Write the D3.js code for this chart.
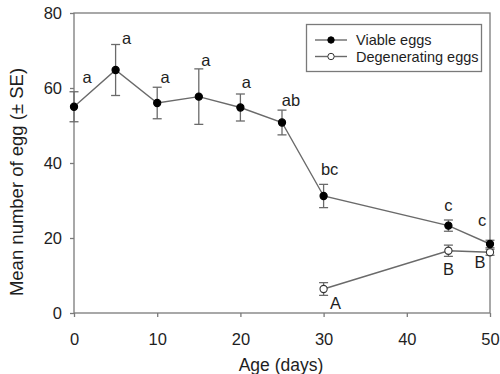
<!DOCTYPE html>
<html>
<head>
<meta charset="utf-8">
<script src="https://cdn.jsdelivr.net/npm/d3@7"></script>
<style>
  html, body { margin: 0; padding: 0; background: #fff; }
  svg { display: block; font-family: "Liberation Sans", Arial, sans-serif; }
</style>
</head>
<body>
<svg id="chart" width="500" height="374"></svg>
<script>
// Egg counts by female age
const viableAge = [0, 5, 10, 15, 20, 25, 30, 45, 50];
const viableMean = [55, 64.8, 56, 57.7, 54.8, 50.8, 31.2, 23.3, 18.4];
const viableSE = [4.0, 6.8, 4.2, 7.4, 3.6, 3.3, 3.1, 1.5, 1.0];
const viableLetters = ["a", "a", "a", "a", "a", "ab", "bc", "c", "c"];

const degenAge = [30, 45, 50];
const degenMean = [6.4, 16.6, 16.2];
const degenSE = [1.7, 1.5, 0.8];
const degenLetters = ["A", "B", "B"];

const xTicks = [0, 10, 20, 30, 40, 50];
const yTicks = [0, 20, 40, 60, 80];

// Letter placement relative to each marker (pixels)
const viableLetterOffset = [[13, -24], [11, -26], [8, -20], [7, -31], [6, -20], [9, -17], [6, -21], [0, -15], [-8, -18]];
const degenLetterOffset = [[12, 20], [0, 24], [-10, 16]];

const svg = d3.select("#chart");
const plotLeft = 74, plotRight = 490, plotTop = 13, plotBottom = 313;

const x = d3.scaleLinear().domain([0, 50]).range([plotLeft, plotRight]);
const y = d3.scaleLinear().domain([0, 80]).range([plotBottom, plotTop]);

const frameColor = "#7a7a7a";
const lineColor = "#6a6a6a";
const textColor = "#1e1e1e";

// Plot frame
svg.append("rect")
  .attr("x", plotLeft).attr("y", plotTop)
  .attr("width", plotRight - plotLeft).attr("height", plotBottom - plotTop)
  .attr("fill", "none").attr("stroke", frameColor).attr("stroke-width", 1.3);

// Axes
const xAxis = svg.append("g")
  .attr("transform", `translate(0,${plotBottom})`)
  .call(d3.axisBottom(x).tickValues(xTicks).tickSize(4).tickPadding(16));
const yAxis = svg.append("g")
  .attr("transform", `translate(${plotLeft},0)`)
  .call(d3.axisLeft(y).tickValues(yTicks).tickSize(4).tickPadding(8));

[xAxis, yAxis].forEach(g => {
  g.select(".domain").remove();
  g.selectAll(".tick line").attr("stroke", frameColor).attr("stroke-width", 1.3);
  g.selectAll(".tick text")
    .attr("fill", textColor)
    .style("font-size", "16.5px")
    .style("font-family", "'Liberation Sans', Arial, sans-serif");
});

// Axis titles
svg.append("text")
  .attr("x", (plotLeft + plotRight) / 2 - 1).attr("y", 371)
  .attr("text-anchor", "middle")
  .attr("fill", textColor)
  .style("font-size", "17.5px")
  .text("Age (days)");

svg.append("text")
  .attr("transform", "translate(23,182) rotate(-90)")
  .attr("text-anchor", "middle")
  .attr("fill", textColor)
  .style("font-size", "18.5px")
  .text("Mean number of egg (\u00b1 SE)");

// Series builder
function drawSeries(ages, means, ses, letters, offsets, filled) {
  const pts = ages.map((a, i) => ({ a, m: means[i], se: ses[i], l: letters[i], o: offsets[i] }));
  const line = d3.line().x(d => x(d.a)).y(d => y(d.m));
  const g = svg.append("g");

  g.append("path")
    .datum(pts)
    .attr("d", line)
    .attr("fill", "none")
    .attr("stroke", lineColor)
    .attr("stroke-width", 1.4);

  const eb = g.selectAll(".eb").data(pts).join("g").attr("class", "eb")
    .attr("stroke", lineColor).attr("stroke-width", 1.3);
  eb.append("line")
    .attr("x1", d => x(d.a)).attr("x2", d => x(d.a))
    .attr("y1", d => y(d.m + d.se)).attr("y2", d => y(d.m - d.se));
  eb.append("line")
    .attr("x1", d => x(d.a) - 4.5).attr("x2", d => x(d.a) + 4.5)
    .attr("y1", d => y(d.m + d.se)).attr("y2", d => y(d.m + d.se));
  eb.append("line")
    .attr("x1", d => x(d.a) - 4.5).attr("x2", d => x(d.a) + 4.5)
    .attr("y1", d => y(d.m - d.se)).attr("y2", d => y(d.m - d.se));

  g.selectAll("circle").data(pts).join("circle")
    .attr("cx", d => x(d.a)).attr("cy", d => y(d.m))
    .attr("r", 3.6)
    .attr("fill", filled ? "#000" : "#fff")
    .attr("stroke", filled ? "#000" : "#333")
    .attr("stroke-width", 1.1);

  g.selectAll(".lt").data(pts).join("text").attr("class", "lt")
    .attr("x", d => x(d.a) + d.o[0])
    .attr("y", d => y(d.m) + d.o[1])
    .attr("text-anchor", "middle")
    .attr("fill", textColor)
    .style("font-size", "16.5px")
    .text(d => d.l);
}

drawSeries(degenAge, degenMean, degenSE, degenLetters, degenLetterOffset, false);
drawSeries(viableAge, viableMean, viableSE, viableLetters, viableLetterOffset, true);

// Legend
const lg = svg.append("g");
lg.append("rect")
  .attr("x", 306.5).attr("y", 24.5).attr("width", 175).attr("height", 47)
  .attr("fill", "#fff").attr("stroke", frameColor).attr("stroke-width", 1.3);
const legendItems = [
  { label: "Viable eggs", filled: true },
  { label: "Degenerating eggs", filled: false }
];
legendItems.forEach((it, i) => {
  const cy = 40 + i * 16.5;
  lg.append("line").attr("x1", 315).attr("x2", 347).attr("y1", cy).attr("y2", cy)
    .attr("stroke", lineColor).attr("stroke-width", 1.4);
  lg.append("circle").attr("cx", 331).attr("cy", cy).attr("r", 3.2)
    .attr("fill", it.filled ? "#000" : "#fff")
    .attr("stroke", it.filled ? "#000" : "#333").attr("stroke-width", 1);
  lg.append("text").attr("x", 356).attr("y", cy + 5)
    .attr("fill", textColor).style("font-size", "14.5px").text(it.label);
});
</script>
</body>
</html>
